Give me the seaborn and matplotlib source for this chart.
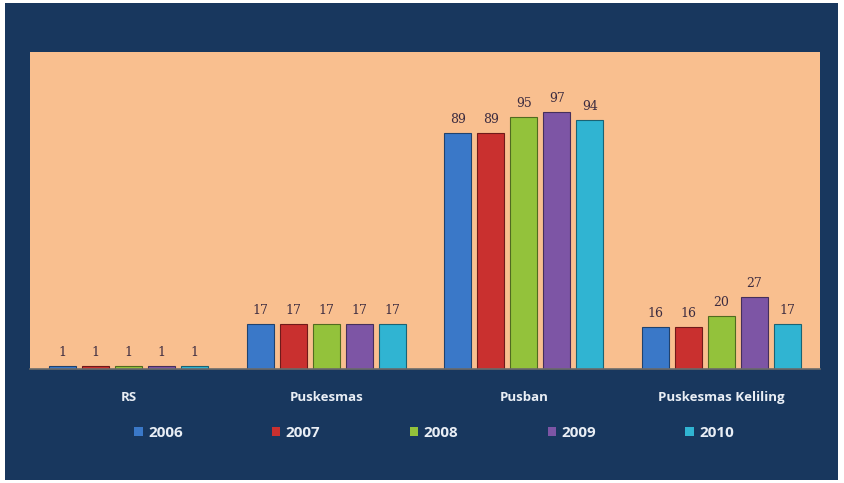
import pandas as pd
import matplotlib.pyplot as plt
import seaborn as sns
from matplotlib.patches import Rectangle

# data
kategori = ["RS", "Puskesmas", "Pusban", "Puskesmas Keliling"]
tahun = ["2006", "2007", "2008", "2009", "2010"]
nilai_2006 = [1, 17, 89, 16]
nilai_2007 = [1, 17, 89, 16]
nilai_2008 = [1, 17, 95, 20]
nilai_2009 = [1, 17, 97, 27]
nilai_2010 = [1, 17, 94, 17]

warna = ["#3a78c8", "#c9302f", "#93c23b", "#7d55a5", "#30b4d2"]
BG_DARK = "#18375e"
BG_PLOT = "#f9bf8f"

series = [nilai_2006, nilai_2007, nilai_2008, nilai_2009, nilai_2010]
rows = []
for t, vals in zip(tahun, series):
    for k, v in zip(kategori, vals):
        rows.append({"Kategori": k, "Tahun": t, "Nilai": v})
df = pd.DataFrame(rows)

sns.set_theme(style="white")
plt.rcParams["font.family"] = ["Open Sans", "DejaVu Sans"]

fig = plt.figure(figsize=(8.44, 4.83), dpi=100, facecolor="white")
fig.patches.append(Rectangle((5 / 844, 3 / 483), 833 / 844, 477 / 483,
                             transform=fig.transFigure, facecolor=BG_DARK,
                             edgecolor="none", zorder=-10))

ax = fig.add_axes([30 / 844, 1 - 369 / 483, 790 / 844, 317 / 483])
ax.set_facecolor(BG_PLOT)

sns.barplot(data=df, x="Kategori", y="Nilai", hue="Tahun", order=kategori,
            hue_order=tahun, palette=warna, width=0.835, gap=0.18,
            errorbar=None, ax=ax, saturation=1, linewidth=0)

# garis tepi gelap per warna, biar mirip gaya Excel
for container, c in zip(ax.containers, warna):
    for bar in container:
        r, g, b = plt.matplotlib.colors.to_rgb(c)
        bar.set_edgecolor((r * 0.55, g * 0.55, b * 0.55))
        bar.set_linewidth(0.8)
    ax.bar_label(container, fmt="%d", padding=5, fontsize=9,
                 color="#3d2c40", family="DejaVu Serif")

ax.set_xlim(-0.5, 3.5)
ax.set_ylim(0, 119.5)
ax.set_yticks([])
ax.set_xlabel("")
ax.set_ylabel("")
for s in ["top", "left", "right"]:
    ax.spines[s].set_visible(False)
ax.spines["bottom"].set_color("#6b6b6b")
ax.spines["bottom"].set_linewidth(1.2)
ax.tick_params(axis="x", length=0, pad=16, labelsize=9.5, labelcolor="#e9eef5")
for lab in ax.get_xticklabels():
    lab.set_fontweight("bold")

leg = ax.legend(loc="center", bbox_to_anchor=(0.5 + 9 / 790, -(433 - 369) / 317),
                ncol=5, frameon=False, handlelength=0.55, handleheight=0.55,
                handletextpad=0.35, columnspacing=5.85, fontsize=11)
for text in leg.get_texts():
    text.set_color("#e9eef5")
    text.set_fontweight("bold")

fig.savefig("out.png", dpi=100, facecolor=fig.get_facecolor())
